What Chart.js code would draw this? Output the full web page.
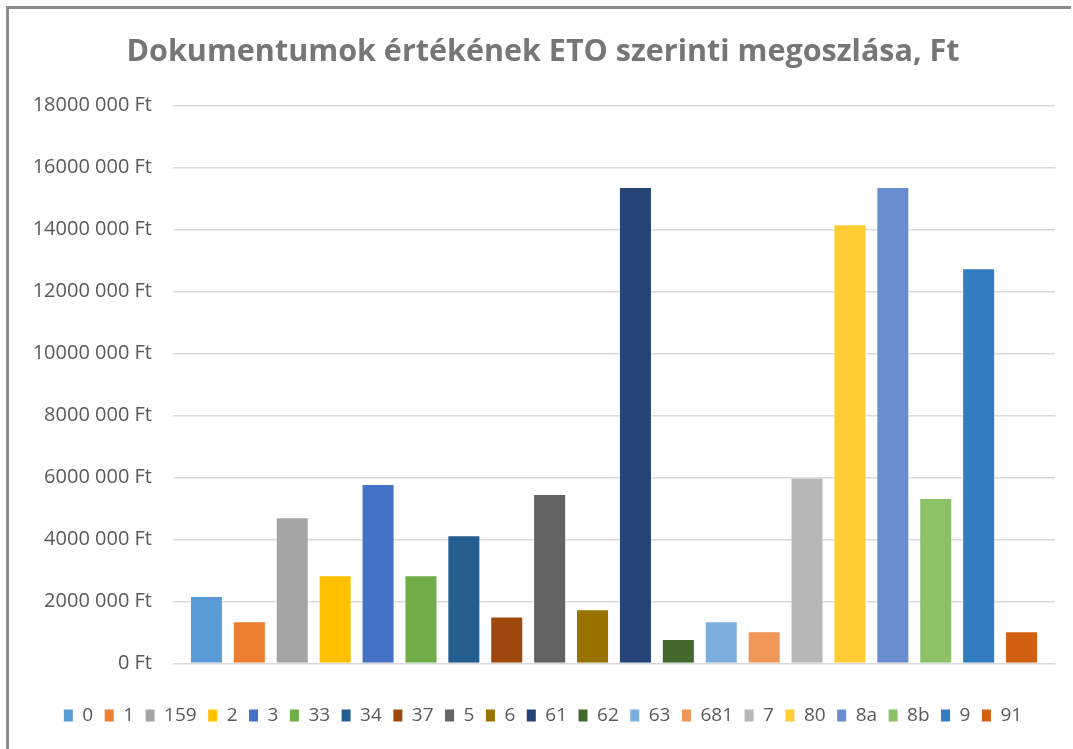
<!DOCTYPE html>
<html lang="hu">
<head>
  <meta charset="utf-8">
  <title>Dokumentumok értékének ETO szerinti megoszlása</title>
  <script src="https://cdn.jsdelivr.net/npm/chart.js"></script>
  <style>
    html, body { margin: 0; padding: 0; background: #fff; overflow: hidden; }
    #frame {
      position: absolute; left: 6px; top: 6px;
      width: 1062px; height: 740px;
      border-left: 3px solid #8c8c8c; border-top: 3px solid #8c8c8c;
    }
  </style>
</head>
<body>
  <div id="frame"><canvas id="chart"></canvas></div>
  <script>
    // ETO csoportok es ertekek (Ft)
    const categories = ['0', '1', '159', '2', '3', '33', '34', '37', '5', '6',
      '61', '62', '63', '681', '7', '80', '8a', '8b', '9', '91'];
    const values = [2180000, 1360000, 4720000, 2850000, 5790000, 2850000, 4140000, 1520000, 5470000, 1750000,
      15370000, 790000, 1360000, 1040000, 6000000, 14170000, 15370000, 5340000, 12750000, 1040000];
    const barColors = ['#5B9BD5', '#ED7D31', '#A5A5A5', '#FFC000', '#4472C4', '#70AD47', '#255E91', '#9E480E', '#636363', '#997300',
      '#264478', '#43682B', '#7CAFDD', '#F1975A', '#B7B7B7', '#FFCD33', '#698ED0', '#8CC168', '#327DC2', '#D26012'];
    const yMax = 18000000;
    const yStep = 2000000;

    function ftLabel(v) {
      if (v === 0) return '0 Ft';
      const th = Math.floor(v / 1000);
      const rest = String(v % 1000).padStart(3, '0');
      return th + ' ' + rest + ' Ft';
    }

    const gridColor = '#d9d9d9';
    const textColor = '#595959';

    new Chart(document.getElementById('chart'), {
      type: 'bar',
      data: {
        labels: categories,
        datasets: [{
          data: values,
          backgroundColor: barColors,
          borderColor: 'rgba(255,255,255,0.45)',
          borderWidth: 1,
          barPercentage: 0.77,
          categoryPercentage: 1
        }]
      },
      options: {
        responsive: true,
        maintainAspectRatio: false,
        animation: false,
        layout: { padding: { left: 22, right: 16, top: 0, bottom: 14 } },
        plugins: {
          title: {
            display: true,
            text: 'Dokumentumok értékének ETO szerinti megoszlása, Ft',
            color: '#767676',
            font: { family: 'Open Sans', size: 30.5, weight: 'bold' },
            padding: { top: 25, bottom: 35 }
          },
          legend: {
            position: 'bottom',
            labels: {
              color: textColor,
              font: { family: 'Open Sans', size: 19 },
              boxWidth: 9,
              boxHeight: 12,
              padding: 11.5,
              generateLabels: (chart) => categories.map((c, i) => ({
                text: c,
                fillStyle: barColors[i],
                strokeStyle: barColors[i],
                lineWidth: 0,
                fontColor: textColor,
                index: i
              }))
            },
            onClick: null
          },
          tooltip: { enabled: false }
        },
        scales: {
          x: {
            ticks: { display: false },
            grid: { display: false },
            border: { display: false },
            afterFit: (s) => { s.height = 31; }
          },
          y: {
            min: 0,
            max: yMax,
            ticks: {
              stepSize: yStep,
              color: textColor,
              padding: 21,
              font: { family: 'Open Sans', size: 20 },
              callback: (v) => ftLabel(v)
            },
            grid: { color: gridColor, lineWidth: 1.5, tickLength: 12, tickColor: gridColor },
            border: { display: false },
            afterFit: (s) => { s.width = 154; }
          },
          y2: {
            position: 'right',
            min: 0,
            max: yMax,
            ticks: { stepSize: yStep, display: false },
            grid: { drawOnChartArea: false, color: gridColor, lineWidth: 1.5, tickLength: 12, tickColor: gridColor },
            border: { display: false },
            afterFit: (s) => { s.width = 12; }
          }
        }
      }
    });
  </script>
</body>
</html>
